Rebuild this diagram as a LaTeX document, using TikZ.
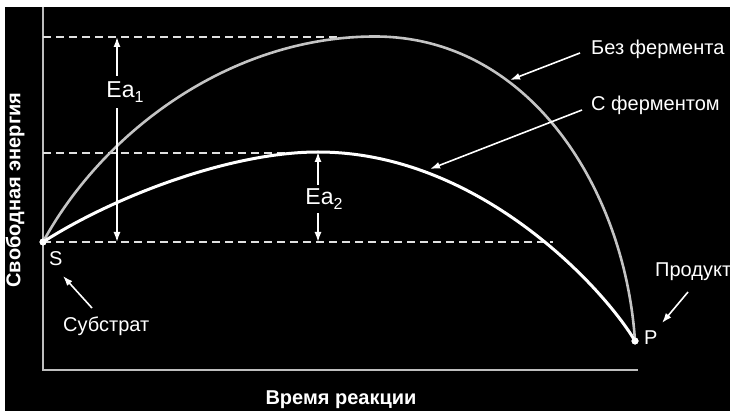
\documentclass[tikz,border=0pt]{standalone}
\usepackage{fontspec}
\setmainfont{Liberation Sans}
\usetikzlibrary{arrows.meta}
\definecolor{axisgrey}{HTML}{BEBEBE}
\definecolor{curvegrey}{HTML}{C4C4C4}
\definecolor{dashgrey}{HTML}{E0E0E0}
\begin{document}
\begin{tikzpicture}[x=1pt,y=-1pt,
  lbl/.style={text=white,font=\fontsize{20}{24}\selectfont,inner sep=0pt},
  axlbl/.style={text=white,font=\fontsize{20}{24}\selectfont\bfseries,inner sep=0pt},
  ealbl/.style={text=white,font=\fontsize{23}{26}\selectfont,inner sep=0pt},
  axline/.style={draw=axisgrey,line width=2pt},
  dsh/.style={draw=dashgrey,line width=1.6pt,dash pattern=on 8pt off 5pt},
  arr/.style={draw=white,line width=1.6pt,-{Latex[length=10pt,width=7pt]}},
  dot/.style={circle,fill=white,inner sep=0pt,minimum size=7pt}]
\useasboundingbox (0,0) rectangle (730,411);
\fill[white] (0,0) rectangle (730,411);
\fill[black] (5,7) rectangle (730,411);
% axes
\coordinate (ytop) at (43,7);
\coordinate (orig) at (43,370);
\coordinate (xend) at (638,370);
\draw[axline] (ytop) -- (orig) -- (xend);
% points
\node[dot] (S) at (43,242) {};
\node[dot] (P) at (635,341) {};
% dashed levels
\coordinate (d1a) at (43,37);  \coordinate (d1b) at (338,37);
\coordinate (d2a) at (43,153); \coordinate (d2b) at (305,153);
\coordinate (d3b) at (553,242);
\draw[dsh] (d1a) -- (d1b);
\draw[dsh] (d2a) -- (d2b);
\draw[dsh] (S.center) -- (d3b);
% curves
\coordinate (peak1) at (375,36.5);
\coordinate (peak2) at (318,152);
\draw[curvegrey,line width=2.6pt,line cap=round] (S.center) .. controls (103,132) and (230,36.5) .. (peak1) .. controls (530,36.5) and (625,190) .. (P.center);
\draw[white,line width=3pt,line cap=round] (S.center) .. controls (113,197) and (230,152) .. (peak2) .. controls (480,152) and (605,290) .. (P.center);
\node[dot] at (S) {};
\node[dot] at (P) {};
% Ea1
\coordinate (ea1top) at (117,37);
\coordinate (ea1bot) at (117,242);
\node[ealbl,minimum height=32pt] (ea1) at (125,92) {Ea\raisebox{-0.45ex}{\fontsize{16}{16}\selectfont 1}};
\draw[arr] (ea1top|-ea1.north) -- (ea1top);
\draw[arr] (ea1bot|-ea1.south) -- (ea1bot);
% Ea2
\coordinate (ea2top) at (318,152);
\coordinate (ea2bot) at (318,242);
\node[ealbl,minimum height=28pt] (ea2) at (324,199) {Ea\raisebox{-0.45ex}{\fontsize{16}{16}\selectfont 2}};
\draw[arr] (ea2top|-ea2.north) -- (ea2top);
\draw[arr] (ea2bot|-ea2.south) -- (ea2bot);
% labels
\node[lbl,anchor=west] (bez) at (591,49) {Без фермента};
\node[lbl,anchor=west] (sf) at (591,105) {С ферментом};
\node[lbl,anchor=west] (prod) at (655,272) {Продукт};
\node[lbl,anchor=west] (sub) at (63,326) {Субстрат};
\node[lbl,anchor=west] (Slbl) at (49,259) {S};
\node[lbl,anchor=west] (Plbl) at (644,338) {P};
\coordinate (bezt) at (510,80);
\coordinate (sft) at (430,169);
\coordinate (prodt) at (662,323);
\coordinate (subt) at (63,276);
\draw[arr] ([shift={(-11,4)}]bez.west) -- (bezt);
\draw[arr] ([shift={(-9,5)}]sf.west) -- (sft);
\draw[arr] ([shift={(33,20)}]prod.west) -- (prodt);
\draw[arr] ([shift={(29,-18)}]sub.west) -- (subt);
% axis labels
\node[axlbl] (xl) at (341,400) {Время реакции};
\node[axlbl,rotate=90] (yl) at (15,190) {Свободная энергия};
\end{tikzpicture}
\end{document}
